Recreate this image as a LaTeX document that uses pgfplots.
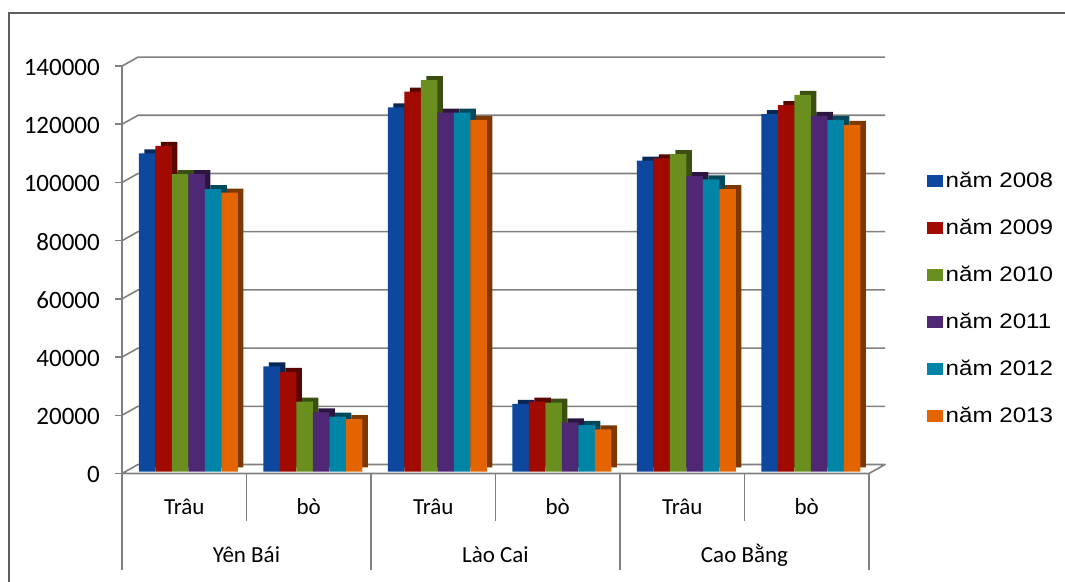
\documentclass[border=0pt]{standalone}
\usepackage{pgfplots}
\pgfplotsset{compat=1.18}
\usepackage{pgfplotstable}
\usepackage{fontspec}
\setmainfont{Carlito}
\newfontfamily\legfont{Liberation Sans}[FakeStretch=1.15]

\definecolor{cA}{HTML}{0D479E}
\definecolor{cB}{HTML}{A00A00}
\definecolor{cC}{HTML}{6B8F1E}
\definecolor{cD}{HTML}{4F2875}
\definecolor{cE}{HTML}{0284A6}
\definecolor{cF}{HTML}{E36400}
\definecolor{gridc}{RGB}{128,128,128}
\definecolor{framec}{RGB}{95,95,95}

\pgfplotstableread{
x  a      b      c      d      e      f
0  109300 111900 102200 102200 97000  95800
1  36100  34200  24000  20300  18900  18000
2  125100 130500 134500 123300 123300 120800
3  23200  24000  23700  16900  16000  14500
4  106800 107600 109100 101500 100400 97000
5  122800 125900 129400 122200 120800 119100
}\datatable

\pgfplotsset{planeaxis/.style={at={(126pt,109.5pt)}, anchor=south west,
  scale only axis, width=747pt, height=407.4pt,
  xmin=-0.5, xmax=5.5, ymin=0, ymax=140000,
  axis lines=none, xtick=\empty, ytick=\empty, clip=false}}

\begin{document}
\begin{tikzpicture}[x=1pt,y=1pt]
\useasboundingbox (0,0) rectangle (1065,581);
\draw[framec, line width=2pt] (9,-20) -- (9,568) -- (1085,568);

% back wall grid and floor
\begin{axis}[planeaxis]
  \filldraw[fill=white, draw=gridc, line width=1.6pt, line join=round]
    ([shift={(-4pt,-2pt)}]axis cs:-0.5,0) -- ([shift={(-4pt,-2pt)}]axis cs:5.5,0)
    -- ([shift={(12pt,7pt)}]axis cs:5.5,0) -- ([shift={(12pt,7pt)}]axis cs:-0.5,0) -- cycle;
  \pgfplotsinvokeforeach{20000,40000,60000,80000,100000,120000,140000}{
    \draw[gridc, line width=1.6pt, line join=round]
      ([shift={(-4pt,-2pt)}]axis cs:-0.5,#1) -- ([shift={(12pt,7pt)}]axis cs:-0.5,#1)
      -- ([shift={(12pt,7pt)}]axis cs:5.5,#1);
  }
  \draw[gridc, line width=1.6pt] ([shift={(-4pt,-2pt)}]axis cs:-0.5,0) -- ([shift={(-4pt,-2pt)}]axis cs:-0.5,140000);
  \pgfplotsinvokeforeach{0,20000,40000,60000,80000,100000,120000,140000}{
    \draw[gridc, line width=1.6pt] ([shift={(-4pt,-2pt)}]axis cs:-0.5,#1) -- ([shift={(-11pt,-2pt)}]axis cs:-0.5,#1);
    \node[anchor=east, inner sep=0pt, font=\fontsize{25}{29}\selectfont] at ([shift={(-26pt,-3pt)}]axis cs:-0.5,#1) {#1};
  }
  % category separators
  \pgfplotsinvokeforeach{0.5,2.5,4.5}{
    \draw[gridc, line width=1.6pt] ([shift={(-4pt,-2pt)}]axis cs:#1,0) -- ([shift={(-4pt,-49.5pt)}]axis cs:#1,0);
  }
  \pgfplotsinvokeforeach{-0.5,1.5,3.5,5.5}{
    \draw[gridc, line width=1.6pt] ([shift={(-4pt,-2pt)}]axis cs:#1,0) -- ([shift={(-4pt,-98.5pt)}]axis cs:#1,0);
  }
  \pgfplotsinvokeforeach{0,2,4}{
    \node[font=\fontsize{23}{27}\selectfont] at ([shift={(-4pt,-35.2pt)}]axis cs:#1,0) {Trâu};
  }
  \pgfplotsinvokeforeach{1,3,5}{
    \node[font=\fontsize{23}{27}\selectfont] at ([shift={(-4pt,-35.2pt)}]axis cs:#1,0) {bò};
  }
  \node[font=\fontsize{23}{27}\selectfont] at ([shift={(-4pt,-83.5pt)}]axis cs:0.5,0) {Yên Bái};
  \node[font=\fontsize{23}{27}\selectfont] at ([shift={(-4pt,-83.5pt)}]axis cs:2.5,0) {Lào Cai};
  \node[font=\fontsize{23}{27}\selectfont] at ([shift={(-4pt,-83.5pt)}]axis cs:4.5,0) {Cao Bằng};
\end{axis}

% bars
\begin{axis}[planeaxis, ybar, bar width=16.5pt,
  legend style={at={(1.0723,0.7353)}, anchor=north west, draw=none, fill=none,
    font=\legfont\fontsize{21}{25}\selectfont, row sep=30pt, inner sep=0pt,
    cells={anchor=west}, nodes={inner xsep=2.5pt, inner ysep=0pt}},
  legend image code/.code={\fill[#1] (0pt,-6pt) rectangle (16pt,6pt);}]
  \addplot[fill=cA!55!black, draw=none, bar shift=-41.25pt, xshift=5.5pt, yshift=4pt, forget plot] table[x=x,y=a]{\datatable};
  \addplot[fill=cB!55!black, draw=none, bar shift=-24.75pt, xshift=5.5pt, yshift=4pt, forget plot] table[x=x,y=b]{\datatable};
  \addplot[fill=cC!55!black, draw=none, bar shift=-8.25pt, xshift=5.5pt, yshift=4pt, forget plot] table[x=x,y=c]{\datatable};
  \addplot[fill=cD!55!black, draw=none, bar shift=8.25pt, xshift=5.5pt, yshift=4pt, forget plot] table[x=x,y=d]{\datatable};
  \addplot[fill=cE!55!black, draw=none, bar shift=24.75pt, xshift=5.5pt, yshift=4pt, forget plot] table[x=x,y=e]{\datatable};
  \addplot[fill=cF!55!black, draw=none, bar shift=41.25pt, xshift=5.5pt, yshift=4pt, forget plot] table[x=x,y=f]{\datatable};
  \addplot[fill=cA, draw=none, bar shift=-41.25pt] table[x=x,y=a]{\datatable};
  \addplot[fill=cB, draw=none, bar shift=-24.75pt] table[x=x,y=b]{\datatable};
  \addplot[fill=cC, draw=none, bar shift=-8.25pt] table[x=x,y=c]{\datatable};
  \addplot[fill=cD, draw=none, bar shift=8.25pt] table[x=x,y=d]{\datatable};
  \addplot[fill=cE, draw=none, bar shift=24.75pt] table[x=x,y=e]{\datatable};
  \addplot[fill=cF, draw=none, bar shift=41.25pt] table[x=x,y=f]{\datatable};
  \legend{năm 2008,năm 2009,năm 2010,năm 2011,năm 2012,năm 2013}
\end{axis}
\end{tikzpicture}
\end{document}
